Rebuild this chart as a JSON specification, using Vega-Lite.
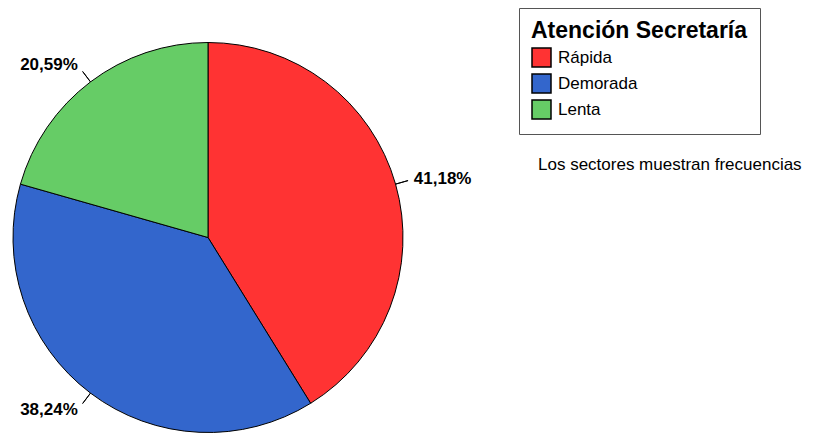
{
  "$schema": "https://vega.github.io/schema/vega-lite/v6.json",
  "autosize": {"type": "none"},
  "width": 416,
  "height": 390,
  "padding": {"left": 0, "top": 42.5, "right": 401, "bottom": 0.5},
  "background": "white",
  "title": {
    "text": "Los sectores muestran frecuencias",
    "anchor": "start",
    "frame": "group",
    "orient": "top",
    "offset": 0,
    "dx": 538,
    "dy": 179.5,
    "baseline": "alphabetic",
    "font": "Liberation Sans",
    "fontSize": 17,
    "fontWeight": "normal",
    "color": "black"
  },
  "data": {
    "values": [
      {"Atencion": "Rápida", "n": 14},
      {"Atencion": "Demorada", "n": 13},
      {"Atencion": "Lenta", "n": 7}
    ]
  },
  "transform": [
    {"calculate": "indexof(['Rápida','Demorada','Lenta'], datum.Atencion)", "as": "ord"},
    {"joinaggregate": [{"op": "sum", "field": "n", "as": "total"}]},
    {"window": [{"op": "sum", "field": "n", "as": "cum"}], "sort": [{"field": "ord", "order": "ascending"}], "frame": [null, 0]},
    {"calculate": "(datum.cum - datum.n) / datum.total * 2 * PI", "as": "start"},
    {"calculate": "datum.cum / datum.total * 2 * PI", "as": "end"},
    {"calculate": "(datum.cum - datum.n / 2) / datum.total * 2 * PI", "as": "mid"},
    {"calculate": "datum.n / datum.total", "as": "pct"}
  ],
  "layer": [
    {
      "mark": {"type": "arc", "outerRadius": 195, "stroke": "black", "strokeWidth": 1},
      "encoding": {
        "theta": {"field": "start", "type": "quantitative", "scale": null},
        "theta2": {"field": "end"},
        "color": {
          "field": "Atencion",
          "type": "nominal",
          "scale": {"domain": ["Rápida", "Demorada", "Lenta"], "range": ["#ff3333", "#3366cc", "#66cc66"]},
          "legend": {
            "title": "Atención Secretaría",
            "orient": "none",
            "legendX": 519,
            "legendY": -34.5
          }
        }
      }
    },
    {
      "mark": {"type": "arc", "innerRadius": 195, "outerRadius": 208, "stroke": "black", "strokeWidth": 1, "fill": null},
      "encoding": {
        "theta": {"field": "mid", "type": "quantitative", "scale": null},
        "theta2": {"field": "mid"}
      }
    },
    {
      "transform": [{"filter": "datum.mid < PI"}],
      "mark": {"type": "text", "radius": 214, "align": "left", "baseline": "middle", "font": "Liberation Sans", "fontSize": 17, "fontWeight": "bold", "color": "black"},
      "encoding": {
        "theta": {"field": "mid", "type": "quantitative", "scale": null},
        "text": {"field": "pct", "type": "quantitative", "format": ".2%"}
      }
    },
    {
      "transform": [{"filter": "datum.mid >= PI"}],
      "mark": {"type": "text", "radius": 216, "align": "right", "baseline": "middle", "font": "Liberation Sans", "fontSize": 17, "fontWeight": "bold", "color": "black"},
      "encoding": {
        "theta": {"field": "mid", "type": "quantitative", "scale": null},
        "text": {"field": "pct", "type": "quantitative", "format": ".2%"}
      }
    }
  ],
  "config": {
    "view": {"stroke": null},
    "locale": {
      "number": {"decimal": ",", "thousands": ".", "grouping": [3], "currency": ["", " €"]}
    },
    "legend": {
      "titleFont": "Liberation Sans",
      "titleFontSize": 23,
      "titleFontWeight": "bold",
      "titleColor": "black",
      "titlePadding": 4,
      "titleLimit": 400,
      "labelFont": "Liberation Sans",
      "labelFontSize": 17,
      "labelColor": "black",
      "labelOffset": 6,
      "symbolType": "square",
      "symbolSize": 361,
      "symbolStrokeColor": "black",
      "symbolStrokeWidth": 1.5,
      "symbolOpacity": 1,
      "rowPadding": 1,
      "padding": 12,
      "strokeColor": "#555555",
      "fillColor": "white"
    }
  }
}
